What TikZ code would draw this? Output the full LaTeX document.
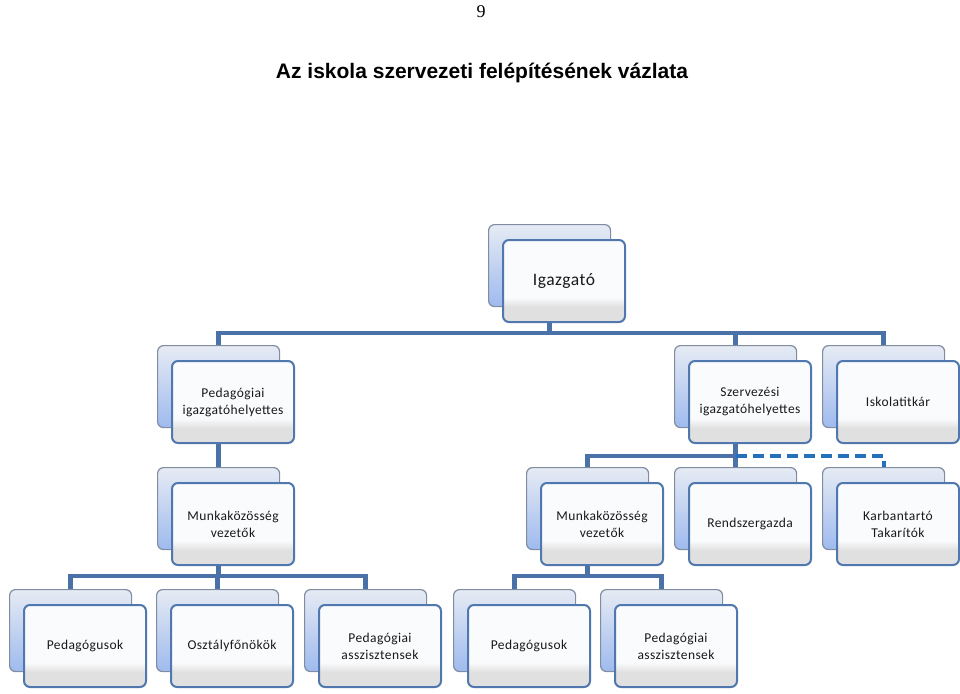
\documentclass[tikz,border=0pt]{standalone}
\usepackage{fontspec}
\setmainfont{Carlito}
\newfontfamily\boxfont[LetterSpace=3]{Carlito}
\newfontfamily\titlefont{Liberation Sans}
\newfontfamily\numfont{Liberation Serif}
\usetikzlibrary{calc}
\pgfdeclarelayer{bg}
\pgfsetlayers{bg,main}
\definecolor{conncol}{RGB}{74,114,168}
\definecolor{dashcol}{RGB}{36,112,186}
\definecolor{frontcol}{RGB}{80,120,174}
\definecolor{backcol}{RGB}{128,140,162}
\definecolor{fwhite}{RGB}{250,251,253}
\definecolor{fgray}{RGB}{224,224,224}
\definecolor{btop}{RGB}{230,235,244}
\definecolor{bbot}{RGB}{158,186,238}
\definecolor{txt}{RGB}{25,25,25}
\pgfdeclareverticalshading{frontsh}{100bp}{color(0bp)=(fgray); color(34bp)=(fgray); color(40bp)=(fwhite); color(100bp)=(fwhite)}
\tikzset{
  backbox/.style={draw=backcol, line width=1.2pt, rounded corners=6pt,
    top color=btop, bottom color=bbot, minimum width=122pt, minimum height=82pt, inner sep=0pt},
  frontbox/.style={draw=frontcol, line width=2pt, rounded corners=6pt,
    shading=frontsh, minimum width=122pt, minimum height=82pt, inner sep=0pt,
    align=center, text=txt, font=\boxfont\fontsize{13.5}{17}\selectfont},
  conn/.style={draw=conncol, line width=4.5pt},
  dconn/.style={draw=dashcol, line width=4pt, dash pattern=on 11pt off 6pt},
}
\newcommand\orgunit[4]{%
  \node[backbox, anchor=north west] (#1b) at (#2,#3) {};
  \node[frontbox, anchor=north west] (#1) at (#2+14,#3+15) {#4};
}
\begin{document}
\begin{tikzpicture}[x=1pt, y=-1pt]
\useasboundingbox (0,0) rectangle (960,693);
\node[font=\numfont\fontsize{18}{21}\selectfont, anchor=base] (pnum) at (481,18) {9};
\node[font=\titlefont\bfseries\fontsize{21}{25}\selectfont, anchor=base] (title) at (482,78) {Az iskola szervezeti felépítésének vázlata};

\orgunit{ig}{488}{224}{\fontsize{17.5}{20}\selectfont Igazgató}
\orgunit{pih}{157}{345}{Pedagógiai\\igazgatóhelyettes}
\orgunit{sz}{674}{345}{Szervezési\\igazgatóhelyettes}
\orgunit{isk}{822}{345}{Iskolatitkár}
\orgunit{mka}{157}{467}{Munkaközösség\\vezetők}
\orgunit{mkb}{526}{467}{Munkaközösség\\vezetők}
\orgunit{rg}{674}{467}{Rendszergazda}
\orgunit{ka}{822}{467}{Karbantartó\\Takarítók}
\orgunit{pa}{9}{589}{Pedagógusok}
\orgunit{of}{156}{589}{Osztályfőnökök}
\orgunit{asa}{304}{589}{Pedagógiai\\asszisztensek}
\orgunit{pb}{453}{589}{Pedagógusok}
\orgunit{asb}{600}{589}{Pedagógiai\\asszisztensek}

\coordinate (bus1) at (0,333);
\coordinate (bus2) at (0,456);
\coordinate (bus3) at (0,576);

\begin{pgfonlayer}{bg}
\draw[conn] (igb.south) -- (igb.south |- bus1);
\draw[conn] (pihb.north) |- (iskb.north |- bus1) -- (iskb.north);
\draw[conn] (szb.north) -- (szb.north |- bus1);
\draw[conn] (pihb.south) -- (mkab.north);
\draw[conn] (szb.south) -- (rgb.north);
\draw[conn] (mkbb.north) |- (szb.south |- bus2);
\draw[dconn] (szb.south |- bus2) -| (kab.north);
\draw[conn] (mkab.south) -- (mkab.south |- bus3);
\draw[conn] (pab.north) |- (asab.north |- bus3) -- (asab.north);
\draw[conn] (ofb.north) -- (ofb.north |- bus3);
\draw[conn] (mkbb.south) -- (mkbb.south |- bus3);
\draw[conn] (pbb.north) |- (asbb.north |- bus3) -- (asbb.north);
\end{pgfonlayer}
\end{tikzpicture}
\end{document}
